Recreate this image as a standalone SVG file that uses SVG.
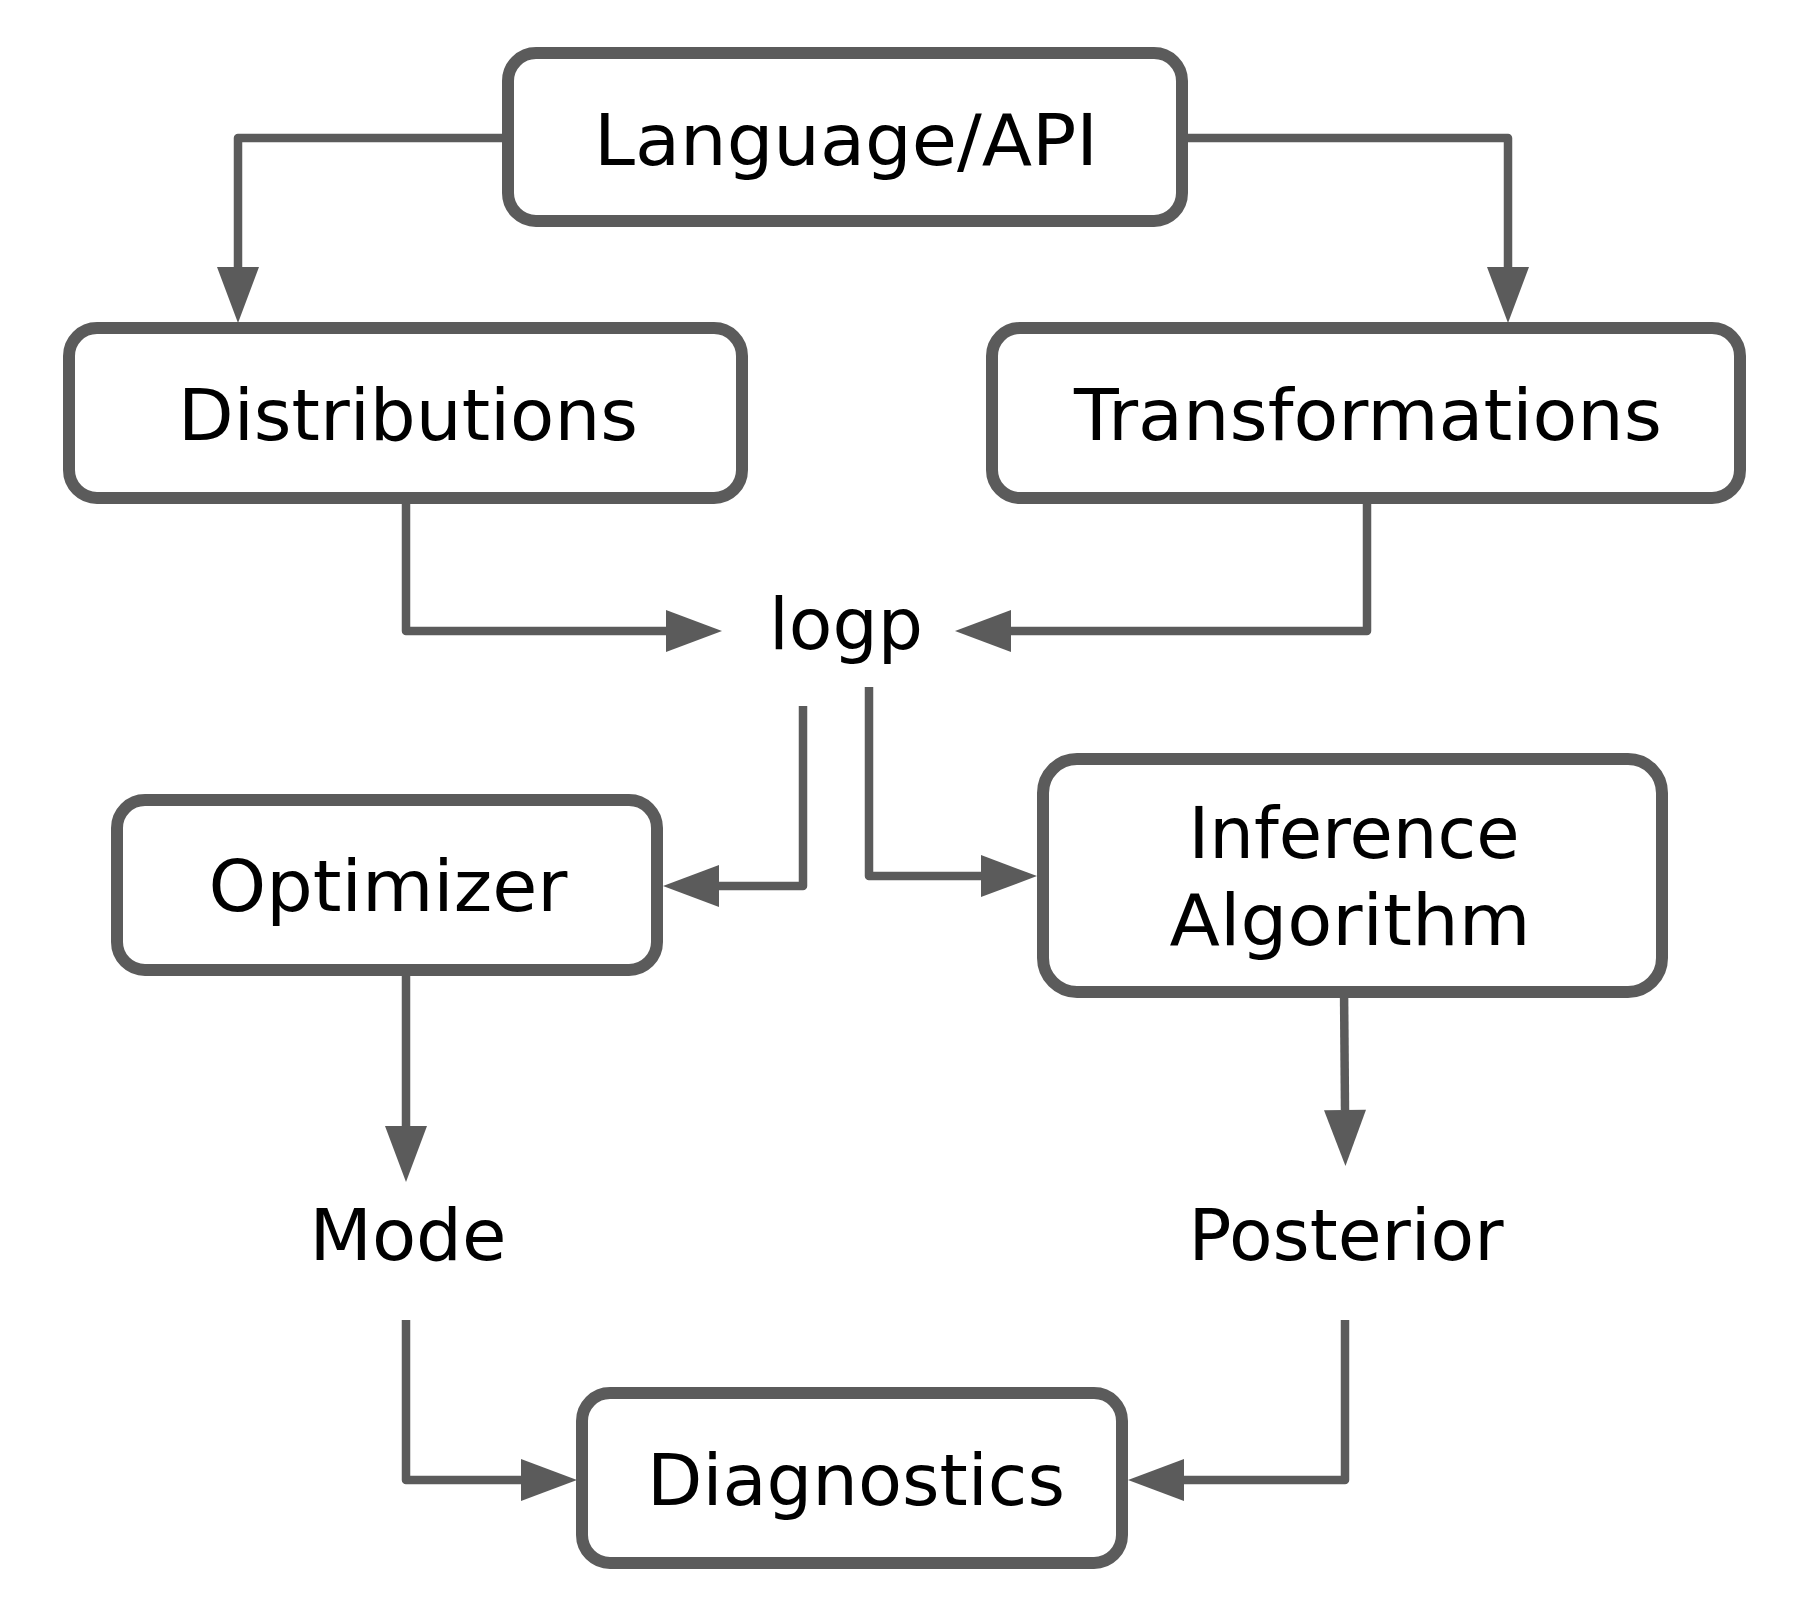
<svg xmlns="http://www.w3.org/2000/svg" width="1810" height="1612" viewBox="0 0 1810 1612">
<style>
.box{fill:#ffffff;stroke:#5b5b5b;stroke-width:12}
.conn{fill:none;stroke:#5b5b5b;stroke-width:8.5;stroke-linejoin:round;stroke-linecap:butt}
.lbl{font-family:"DejaVu Sans","Liberation Sans",sans-serif;font-size:72px;fill:#000000;text-anchor:middle}
</style>
<defs>
<marker id="arr" markerUnits="userSpaceOnUse" markerWidth="56" markerHeight="42" refX="0" refY="21" orient="auto" overflow="visible">
<path d="M0,0 L56,21 L0,42 Z" fill="#5b5b5b"/>
</marker>
</defs>
<rect width="1810" height="1612" fill="#ffffff"/>
<g id="connectors">
<path class="conn" d="M508,138 H238 V267" marker-end="url(#arr)"/>
<path class="conn" d="M1182,138 H1508 V267" marker-end="url(#arr)"/>
<path class="conn" d="M406,504 V631 H666" marker-end="url(#arr)"/>
<path class="conn" d="M1367,504 V631 H1011" marker-end="url(#arr)"/>
<path class="conn" d="M803,706 V886 H719" marker-end="url(#arr)"/>
<path class="conn" d="M869,687 V876 H981" marker-end="url(#arr)"/>
<path class="conn" d="M406,976 V1126" marker-end="url(#arr)"/>
<path class="conn" d="M1344,987 L1345,1110" marker-end="url(#arr)"/>
<path class="conn" d="M406,1320 V1480 H521" marker-end="url(#arr)"/>
<path class="conn" d="M1345,1320 V1480 H1184" marker-end="url(#arr)"/>
</g>
<g id="language">
<rect class="box" x="508" y="53" width="674" height="168" rx="28"/>
<text class="lbl" x="846" y="165" textLength="504" lengthAdjust="spacingAndGlyphs">Language/API</text>
</g>
<g id="distributions">
<rect class="box" x="69" y="328" width="673" height="170" rx="28"/>
<text class="lbl" x="408" y="440" textLength="460" lengthAdjust="spacingAndGlyphs">Distributions</text>
</g>
<g id="transformations">
<rect class="box" x="992" y="328" width="748" height="170" rx="28"/>
<text class="lbl" x="1368" y="440" textLength="588" lengthAdjust="spacingAndGlyphs">Transformations</text>
</g>
<g id="logp">
<text class="lbl" x="846" y="649" textLength="154" lengthAdjust="spacingAndGlyphs">logp</text>
</g>
<g id="optimizer">
<rect class="box" x="117" y="800" width="540" height="170" rx="28"/>
<text class="lbl" x="388" y="911" textLength="359" lengthAdjust="spacingAndGlyphs">Optimizer</text>
</g>
<g id="inference">
<rect class="box" x="1043" y="759" width="619" height="233" rx="34"/>
<text class="lbl" x="1354" y="858" textLength="331" lengthAdjust="spacingAndGlyphs">Inference</text>
<text class="lbl" x="1350" y="945" textLength="361" lengthAdjust="spacingAndGlyphs">Algorithm</text>
</g>
<g id="mode">
<text class="lbl" x="408" y="1260" textLength="197" lengthAdjust="spacingAndGlyphs">Mode</text>
</g>
<g id="posterior">
<text class="lbl" x="1346" y="1260" textLength="315" lengthAdjust="spacingAndGlyphs">Posterior</text>
</g>
<g id="diagnostics">
<rect class="box" x="582" y="1393" width="540" height="170" rx="28"/>
<text class="lbl" x="856" y="1505" textLength="418" lengthAdjust="spacingAndGlyphs">Diagnostics</text>
</g>
</svg>
